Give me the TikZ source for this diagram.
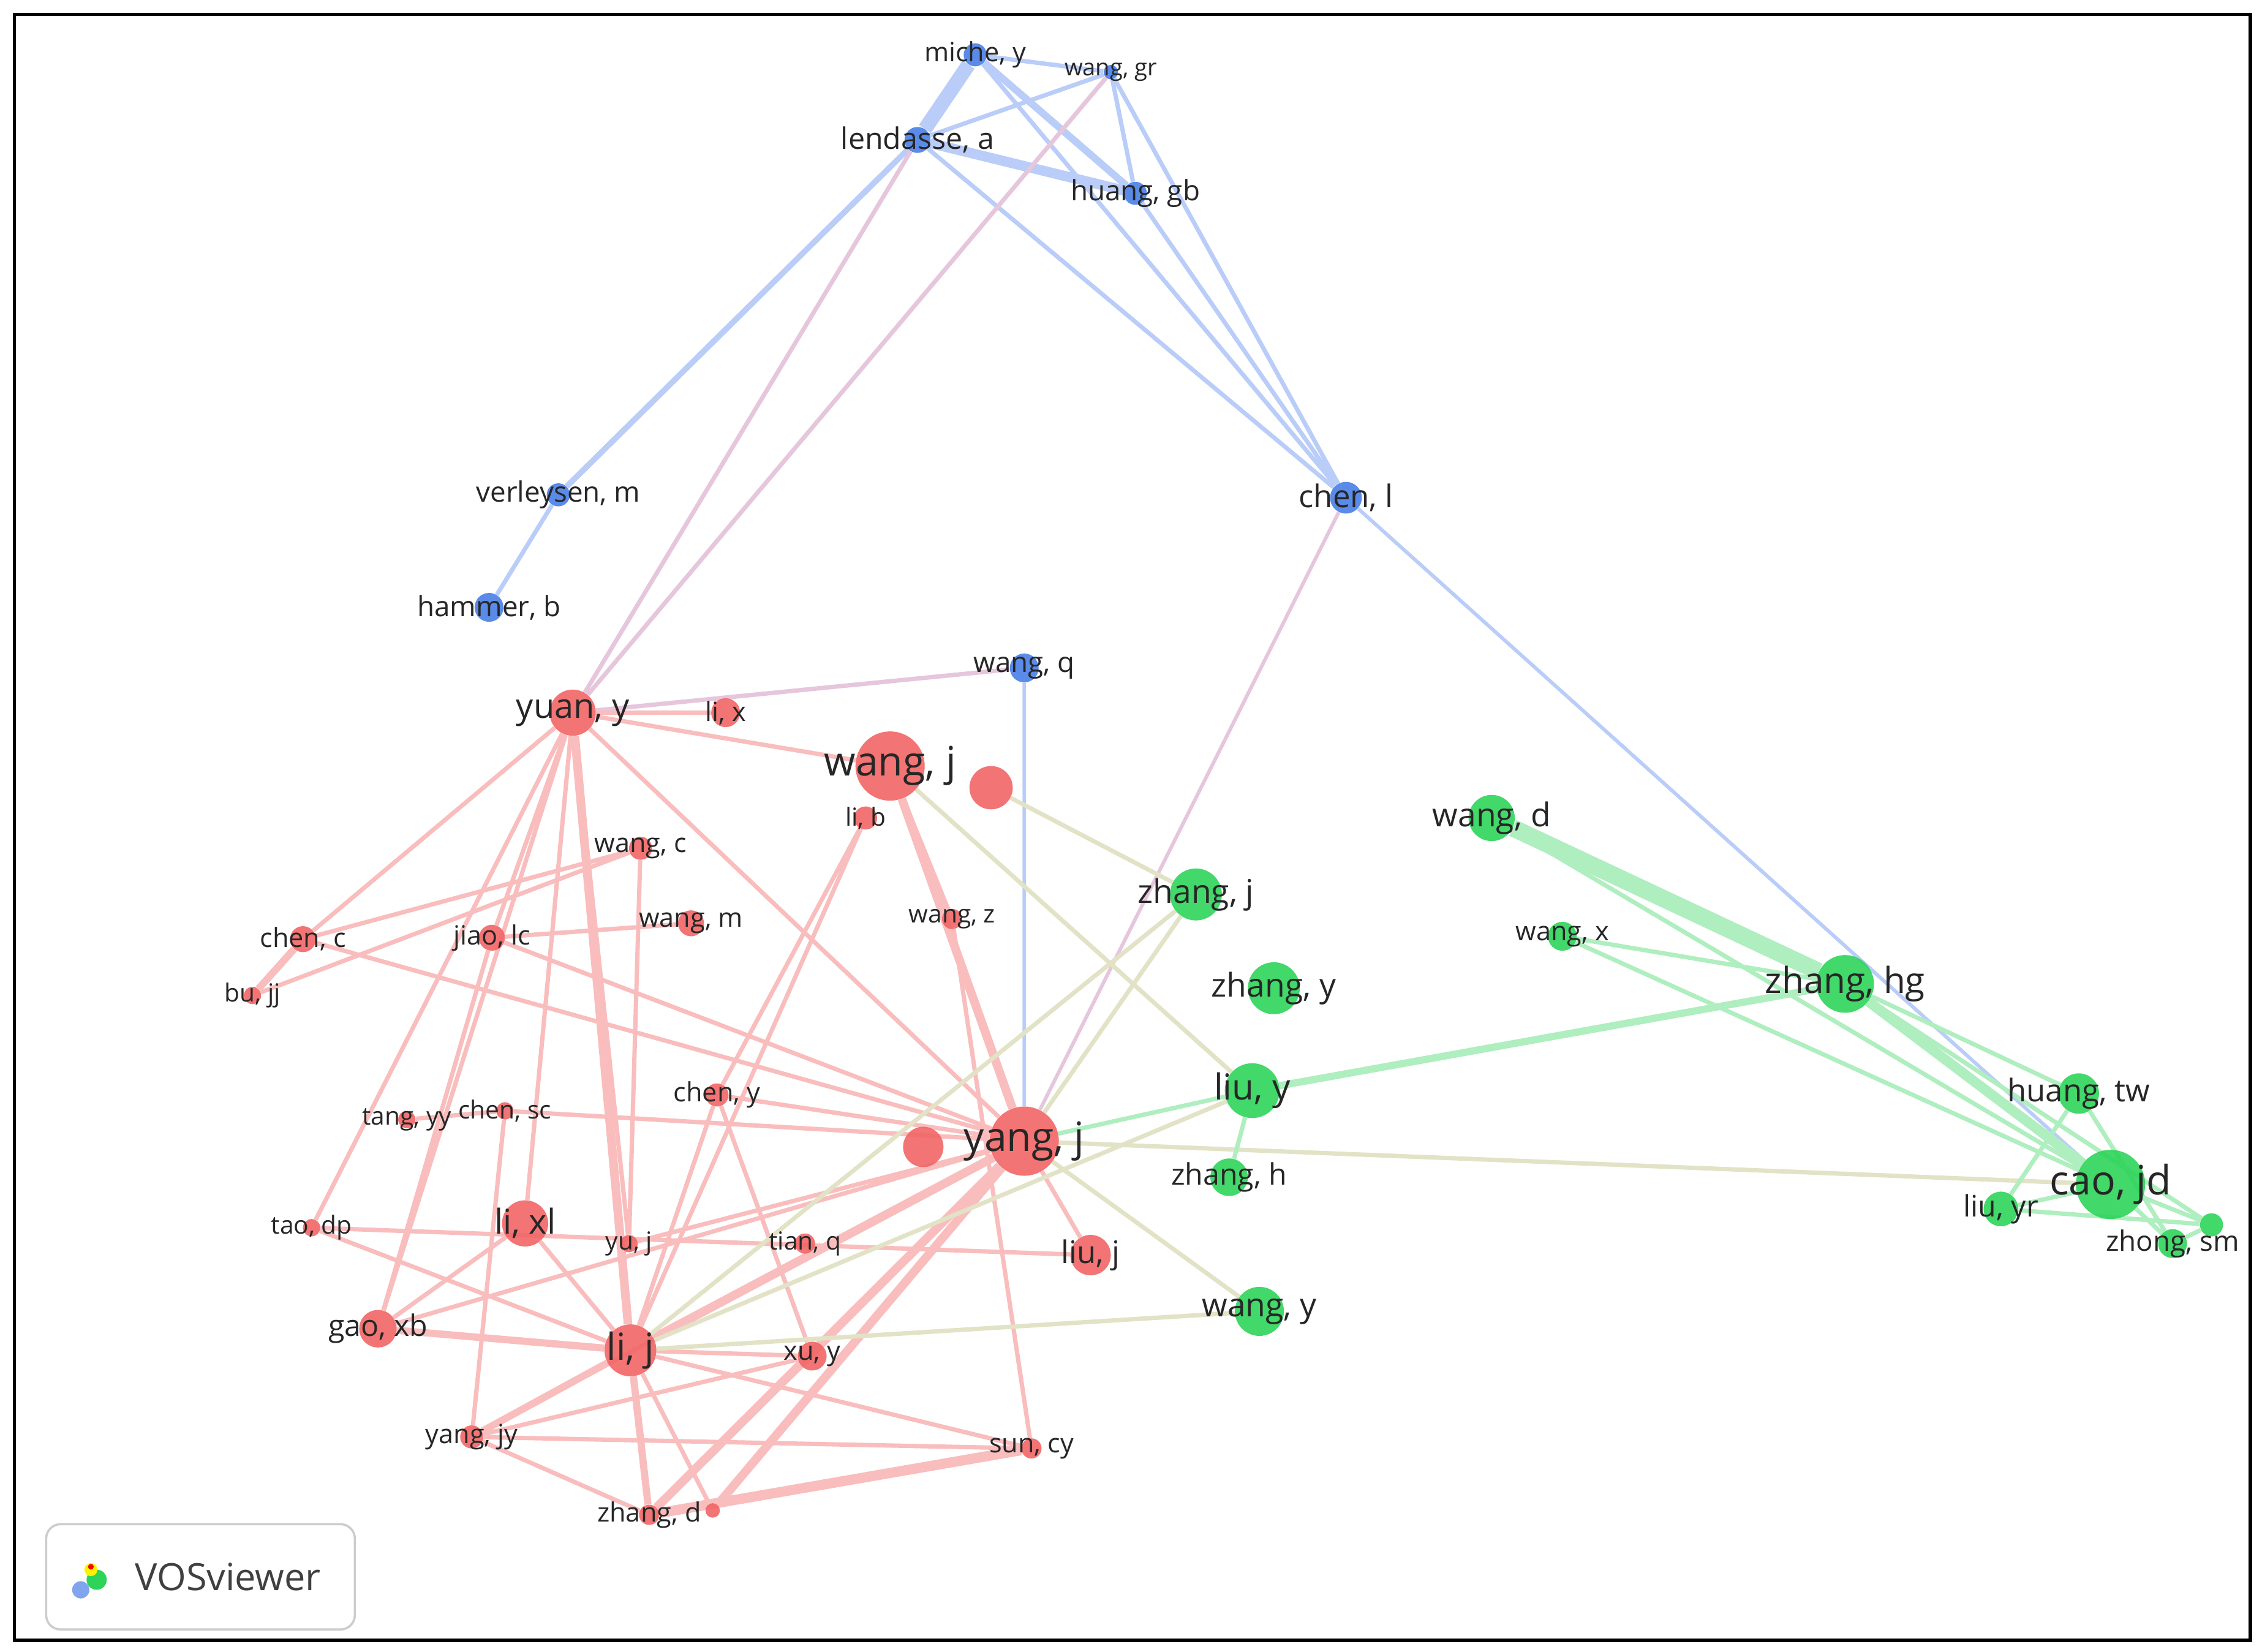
\documentclass[tikz,border=0pt]{standalone}
\usepackage{fontspec}
\setmainfont{Open Sans}
\usetikzlibrary{backgrounds}
\definecolor{cB}{HTML}{4A7FE6}
\definecolor{cR}{HTML}{F26565}
\definecolor{cG}{HTML}{2ED45A}
\definecolor{eB}{HTML}{B9CDF8}
\definecolor{eR}{HTML}{F9BDBD}
\definecolor{eG}{HTML}{AEEEBF}
\definecolor{eP}{HTML}{E6C6DC}
\definecolor{eY}{HTML}{E2E2C6}
\newcommand\AU[6]{\node[circle,fill=#4,minimum size=#3pt,inner sep=0pt,fill opacity=.9] (#1) at (#2) {};
 \node[font=\fontsize{\dimexpr#6pt*108/100\relax}{#6pt}\selectfont,text=black!85,inner sep=0pt] (#1t) at (#2) {#5};}
\tikzset{eb/.style={draw=eB,line width=3pt},er/.style={draw=eR,line width=3pt},eg/.style={draw=eG,line width=3pt},
 ep/.style={draw=eP,line width=3pt},ey/.style={draw=eY,line width=3pt}}
\begin{document}
\begin{tikzpicture}[x=1pt,y=-1pt]
\useasboundingbox (0,0) rectangle (1568,1145);
% blue
\AU{miche}{676,38}{16}{cB}{miche, y}{17}
\AU{wgr}{770,50}{10}{cB}{wang, gr}{15}
\AU{lend}{636,97}{18}{cB}{lendasse, a}{19}
\AU{hgb}{787,134}{16}{cB}{huang, gb}{18}
\AU{verl}{387,343}{16}{cB}{verleysen, m}{18}
\AU{hamm}{339,421}{20}{cB}{hammer, b}{18}
\AU{chenl}{933,345}{22}{cB}{chen, l}{20}
\AU{wangq}{710,463}{20}{cB}{wang, q}{18}
% red
\AU{yuan}{397,494}{32}{cR}{yuan, y}{22}
\AU{lix}{503,494}{20}{cR}{li, x}{17}
\AU{wangj}{617,531}{48}{cR}{wang, j}{26}
\AU{r1}{687,546}{30}{cR}{}{10}
\AU{lib}{600,567}{16}{cR}{li, b}{16}
\AU{wangc}{444,588}{16}{cR}{wang, c}{17}
\AU{chenc}{210,651}{18}{cR}{chen, c}{17}
\AU{jiao}{341,650}{18}{cR}{jiao, lc}{17}
\AU{wangm}{479,640}{18}{cR}{wang, m}{17}
\AU{wangz}{660,637}{14}{cR}{wang, z}{16}
\AU{bujj}{175,690}{12}{cR}{bu, jj}{16}
\AU{cheny}{497,759}{16}{cR}{chen, y}{17}
\AU{tang}{282,776}{12}{cR}{tang, yy}{16}
\AU{chensc}{350,770}{12}{cR}{chen, sc}{16}
\AU{yangj}{710,791}{48}{cR}{yang, j}{26}
\AU{r2}{640,795}{28}{cR}{}{10}
\AU{tao}{216,851}{12}{cR}{tao, dp}{16}
\AU{lixl}{364,848}{32}{cR}{li, xl}{22}
\AU{yuj}{436,862}{12}{cR}{yu, j}{16}
\AU{tian}{558,862}{14}{cR}{tian, q}{16}
\AU{liuj}{756,870}{28}{cR}{liu, j}{20}
\AU{gao}{262,921}{26}{cR}{gao, xb}{19}
\AU{lij}{437,936}{36}{cR}{li, j}{24}
\AU{xuy}{563,940}{20}{cR}{xu, y}{17}
\AU{yangjy}{327,996}{16}{cR}{yang, jy}{17}
\AU{sun}{715,1004}{14}{cR}{sun, cy}{17}
\AU{zhangd}{450,1050}{14}{cR}{zhang, d}{17}
\AU{r3}{494,1047}{10}{cR}{}{10}
% green
\AU{wangd}{1034,567}{32}{cG}{wang, d}{21}
\AU{zhangj}{829,620}{36}{cG}{zhang, j}{21}
\AU{wangx}{1083,649}{20}{cG}{wang, x}{17}
\AU{zhangy}{883,685}{36}{cG}{zhang, y}{21}
\AU{zhanghg}{1279,682}{40}{cG}{zhang, hg}{23}
\AU{liuy}{868,756}{38}{cG}{liu, y}{23}
\AU{huangtw}{1441,758}{28}{cG}{huang, tw}{20}
\AU{zhangh}{852,816}{26}{cG}{zhang, h}{19}
\AU{caojd}{1463,821}{48}{cG}{cao, jd}{26}
\AU{liuyr}{1387,838}{24}{cG}{liu, yr}{19}
\AU{zhong}{1506,862}{20}{cG}{zhong, sm}{18}
\AU{g1}{1533,849}{16}{cG}{}{10}
\AU{wangy}{873,909}{34}{cG}{wang, y}{21}
\begin{scope}[on background layer]
\fill[white] (0,0) rectangle (1568,1145);
% blue edges
\draw[eb,line width=10pt] (miche)--(lend);
\draw[eb,line width=7pt] (lend)--(hgb);
\draw[eb,line width=5pt] (miche)--(hgb);
\draw[eb] (miche)--(wgr) (lend)--(wgr) (wgr)--(hgb) (verl)--(hamm)
 (lend)--(chenl) (hgb)--(chenl) (wgr)--(chenl) (miche)--(chenl);
\draw[eb,line width=4pt] (lend)--(verl);
\draw[eb,line width=2.5pt] (chenl)--(caojd) (wangq)--(yangj);
\draw[ep,line width=2.5pt] (chenl)--(yangj);
\draw[ep] (wangq)--(yuan);
\draw[ep] (yuan)--(lend) (yuan)--(wgr);
% red edges
\draw[er] (yuan)--(lix) (yuan)--(wangj) (yuan)--(chenc) (yuan)--(jiao) (yuan)--(yuj)
 (yuan)--(gao) (yuan)--(yangj) (yuan)--(tao) (wangc)--(chenc) (wangc)--(bujj) (jiao)--(wangm)
 (chenc)--(yangj) (jiao)--(yangj) (wangj)--(wangz) (wangc)--(yuj) (gao)--(jiao)
 (lib)--(lij) (lib)--(cheny) (yangj)--(chensc) (yangj)--(cheny) (yangj)--(xuy) (yangj)--(gao)
 (yangj)--(yangjy) (yangj)--(yuj) (yangj)--(liuj) (lij)--(tao) (lij)--(lixl) (lij)--(sun)
 (lij)--(xuy) (tao)--(liuj) (gao)--(lixl) (yangjy)--(sun) (yangjy)--(zhangd) (xuy)--(yangjy)
 (xuy)--(cheny) (zhangd)--(xuy) (wangz)--(sun) (tang)--(chensc) (lij)--(cheny) (yuan)--(lixl)
 (chensc)--(yangjy) (lij)--(r3);
\draw[er,line width=5pt] (chenc)--(bujj);
\draw[er,line width=6pt] (yuan)--(lij) (wangj)--(yangj) (lij)--(yangj) (zhangd)--(yangj) (r3)--(yangj);
\draw[er,line width=5pt] (lij)--(gao) (lij)--(yangjy) (lij)--(zhangd);
\draw[er,line width=7pt] (zhangd)--(sun);
% mixed edges
\draw[ey] (r1)--(zhangj) (wangj)--(liuy) (lij)--(zhangj) (lij)--(liuy) (lij)--(wangy)
 (yangj)--(zhangj) (yangj)--(wangy) (yangj)--(caojd);
% green edges
\draw[eg] (liuy)--(zhangh) (yangj)--(liuy) (zhanghg)--(huangtw) (wangx)--(caojd) (wangx)--(zhanghg)
 (huangtw)--(liuyr) (huangtw)--(zhong) (caojd)--(zhong) (caojd)--(liuyr) (liuyr)--(g1) (zhong)--(g1)
 (caojd)--(g1) (zhanghg)--(g1) (wangd)--(caojd);
\draw[eg,line width=5pt] (zhanghg)--(liuy);
\draw[eg,line width=12pt] (wangd)--(zhanghg);
\draw[eg,line width=7pt] (zhanghg)--(caojd);
\end{scope}
% logo
\node[draw=black!20,line width=1.5pt,rounded corners=10pt,minimum width=214pt,minimum height=73pt,fill=white] (logo) at (139,1093) {};
\node[font=\fontsize{26}{26}\selectfont,text=black!75] (logot) at (158,1093) {VOSviewer};
\node[fill=cB!70,circle,minimum size=12pt,inner sep=0pt] (l1) at (56,1102) {};
\node[fill=cG,circle,minimum size=14pt,inner sep=0pt] (l2) at (67,1095) {};
\node[fill=yellow,circle,minimum size=9pt,inner sep=0pt] (l3) at (63,1088) {};
\node[fill=red,circle,minimum size=4pt,inner sep=0pt] (l4) at (63,1086) {};
\draw[black,line width=2.5pt] (10,10) rectangle (1560,1137);
\end{tikzpicture}
\end{document}
